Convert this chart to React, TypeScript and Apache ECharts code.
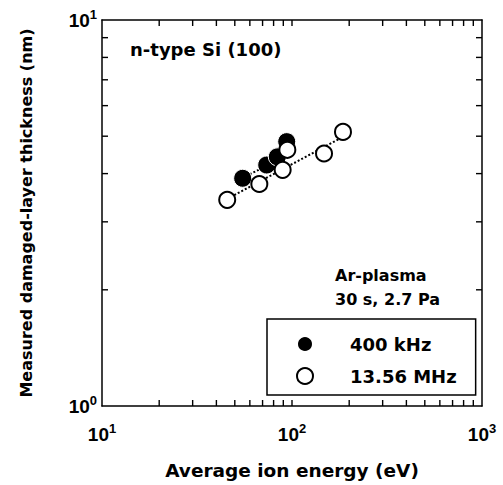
import React, { useEffect, useRef } from "react";
import * as echarts from "echarts";

// Data
const energy400k = [55.0, 73.6, 83.7, 93.8];
const thick400k = [3.89, 4.21, 4.42, 4.84];
const energy1356 = [45.6, 67.3, 89.3, 94.5, 147.4, 185.5];
const thick1356 = [3.42, 3.76, 4.09, 4.61, 4.51, 5.13];
const fit400kX = [55.0, 93.8];
const fit400kY = [3.9, 4.45];
const fit1356X = [45.6, 185.5];
const fit1356Y = [3.44, 4.98];
const seriesNames = ["400 kHz", "13.56 MHz"];
const xTickValues = [20, 30, 40, 50, 60, 70, 80, 90, 100, 200, 300, 400, 500, 600, 700, 800, 900];
const yTickValues = [2, 3, 4, 5, 6, 7, 8, 9];
const X_MIN = 10, X_MAX = 1000, Y_MIN = 1, Y_MAX = 10;

const zip = (a: number[], b: number[]) => a.map((v, i) => [v, b[i]]);

const LBL = "Liberation Sans";
const DJV = "DejaVu Sans";

const powLabel = (v: number) => `{b|10}{s|${Math.round(Math.log10(v))}}`;
const rich = {
  b: { fontFamily: LBL, fontWeight: "bold", fontSize: 19, color: "#000" },
  s: { fontFamily: LBL, fontWeight: "bold", fontSize: 13, color: "#000", padding: [0, 0, 12, 0] },
};

const TICK = 6;
const TW = 1.4;

export default function App() {
  const ref = useRef<HTMLDivElement>(null);
  useEffect(() => {
    document.body.style.margin = "0";
    const chart = echarts.init(ref.current!, null, { renderer: "svg" });
    const axisLine = { show: true, lineStyle: { color: "#000", width: 1.5 } };
    const logAxis = (min: number, max: number, position: string) => ({
      type: "log",
      logBase: 10,
      min,
      max,
      position,
      axisLine,
      axisTick: { show: false },
      splitLine: { show: false },
    });
    chart.setOption({
      animation: false,
      backgroundColor: "#fff",
      grid: { left: 102, top: 20, right: 21, bottom: 79, containLabel: false },
      xAxis: [
        {
          ...logAxis(X_MIN, X_MAX, "bottom"),
          axisLabel: { formatter: powLabel, rich, margin: 16 },
          name: "Average ion energy (eV)",
          nameLocation: "middle",
          nameGap: 55,
          nameTextStyle: { fontFamily: DJV, fontWeight: "bold", fontSize: 18.5, color: "#000" },
        },
        { ...logAxis(X_MIN, X_MAX, "top"), axisLabel: { show: false } },
      ],
      yAxis: [
        {
          ...logAxis(Y_MIN, Y_MAX, "left"),
          axisLabel: { formatter: powLabel, rich, margin: 5 },
          name: "Measured damaged-layer thickness (nm)",
          nameLocation: "middle",
          nameGap: 68,
          nameTextStyle: { fontFamily: DJV, fontWeight: "bold", fontSize: 16, color: "#000" },
        },
        { ...logAxis(Y_MIN, Y_MAX, "right"), axisLabel: { show: false } },
      ],
      legend: {
        data: seriesNames,
        orient: "vertical",
        left: 267,
        top: 319,
        itemWidth: 16,
        itemHeight: 16,
        itemGap: 14,
        padding: [16, 19, 10, 29],
        borderColor: "#000",
        borderWidth: 1.5,
        textStyle: { fontFamily: DJV, fontWeight: "bold", fontSize: 18, color: "#000", padding: [0, 0, 0, 32] },
      },
      series: [
        {
          name: "fit400k",
          type: "line",
          data: zip(fit400kX, fit400kY),
          symbol: "none",
          lineStyle: { color: "#000", width: 2, type: [2, 2] },
          z: 1,
        },
        {
          name: "fit1356",
          type: "line",
          data: zip(fit1356X, fit1356Y),
          symbol: "none",
          lineStyle: { color: "#000", width: 2, type: [2, 2] },
          z: 1,
        },
        {
          name: seriesNames[0],
          type: "scatter",
          data: zip(energy400k, thick400k),
          symbol: "circle",
          symbolSize: 18,
          itemStyle: { color: "#000", borderColor: "#fff", borderWidth: 1, opacity: 1 },
          z: 3,
        },
        {
          name: seriesNames[1],
          type: "scatter",
          data: zip(energy1356, thick1356),
          symbol: "circle",
          symbolSize: 16,
          itemStyle: { color: "#fff", borderColor: "#000", borderWidth: 2, opacity: 1 },
          z: 4,
        },
      ],
    });

    // Minor/major tick marks placed through the axes' own scales
    const toX = (v: number) => chart.convertToPixel({ xAxisIndex: 0 }, v) as number;
    const toY = (v: number) => chart.convertToPixel({ yAxisIndex: 0 }, v) as number;
    const yb = toY(Y_MIN), yt = toY(Y_MAX), xl = toX(X_MIN), xr = toX(X_MAX);
    const tickEls: any[] = [];
    xTickValues.forEach((v) => {
      const px = toX(v);
      tickEls.push({ type: "rect", shape: { x: px - TW / 2, y: yb - TICK, width: TW, height: TICK }, style: { fill: "#000" }, z: 5 });
      tickEls.push({ type: "rect", shape: { x: px - TW / 2, y: yt, width: TW, height: TICK }, style: { fill: "#000" }, z: 5 });
    });
    yTickValues.forEach((v) => {
      const py = toY(v);
      tickEls.push({ type: "rect", shape: { x: xl, y: py - TW / 2, width: TICK, height: TW }, style: { fill: "#000" }, z: 5 });
      tickEls.push({ type: "rect", shape: { x: xr - TICK, y: py - TW / 2, width: TICK, height: TW }, style: { fill: "#000" }, z: 5 });
    });

    chart.setOption({
      graphic: [
        {
          type: "text",
          left: 130,
          top: 40,
          style: { text: "n-type Si (100)", fontFamily: DJV, fontWeight: "bold", fontSize: 18, fill: "#000" },
        },
        {
          type: "text",
          left: 335,
          top: 263,
          style: {
            text: "Ar-plasma\n30 s, 2.7 Pa",
            fontFamily: DJV,
            fontWeight: "bold",
            fontSize: 16,
            fill: "#000",
            lineHeight: 24,
          },
        },
        ...tickEls,
      ],
    });
    return () => chart.dispose();
  }, []);
  return <div ref={ref} style={{ width: 503, height: 485 }} />;
}
